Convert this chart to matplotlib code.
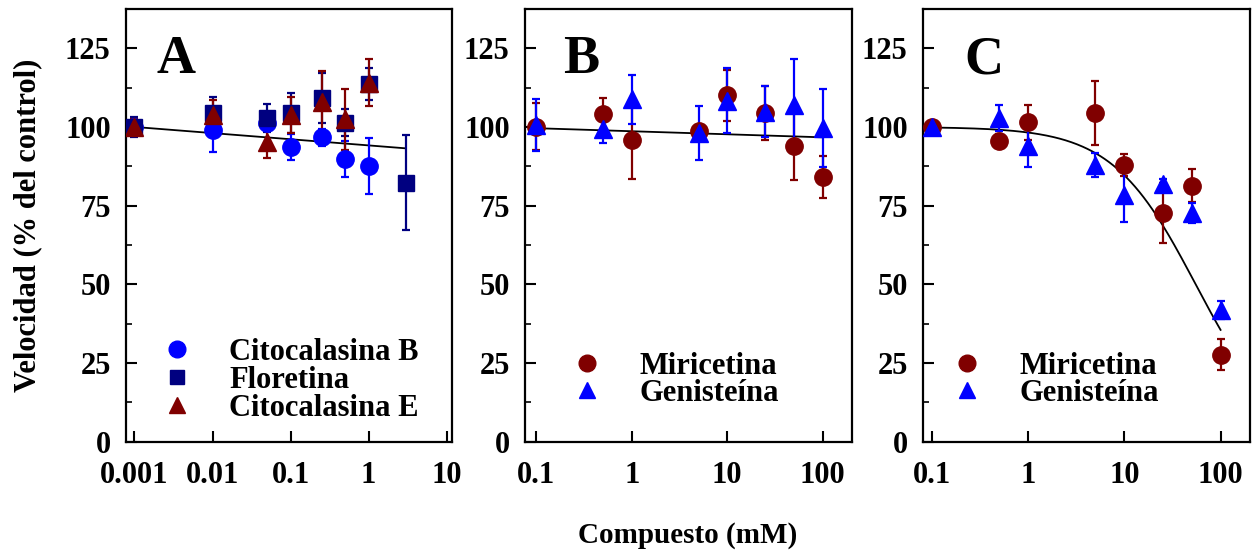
import numpy as np
import matplotlib
matplotlib.use("Agg")
import matplotlib.pyplot as plt
from matplotlib.ticker import FixedLocator, FixedFormatter, LogLocator, NullFormatter, MultipleLocator

plt.rcParams["font.family"] = ["Liberation Serif", "DejaVu Serif"]
plt.rcParams["font.weight"] = "bold"

# --------------------- DATA ---------------------

# panel A
conc_cb = [0.001, 0.01, 0.05, 0.1, 0.25, 0.5, 1]
vel_cb = [100, 99.0, 101.2, 93.5, 96.7, 89.7, 87.6]
err_cb = [3.0, 6.9, 2.0, 4.1, 2.7, 5.7, 8.8]

conc_flo = [0.001, 0.01, 0.05, 0.1, 0.25, 0.5, 1, 3]
vel_flo = [100, 104.4, 102.8, 104.4, 109.1, 101.4, 113.6, 82.3]
err_flo = [3.3, 5.0, 4.5, 6.3, 7.9, 4.3, 5.0, 15.1]

conc_ce = [0.001, 0.01, 0.05, 0.1, 0.25, 0.5, 1]
vel_ce = [100, 103.8, 95.3, 103.8, 108.0, 102.4, 114.1]
err_ce = [2.5, 4.8, 5.3, 5.8, 9.9, 9.6, 7.6]

fit_a_x = [0.001, 3]
fit_a_y = [100, 93.2]

# panels B and C share concentrations
conc_bc = [0.1, 0.5, 1, 5, 10, 25, 50, 100]

vel_mir_b = [100.1, 104.0, 95.9, 98.7, 110.0, 104.5, 94.1, 84.2]
err_mir_b = [7.4, 5.3, 12.4, 2.0, 8.0, 8.6, 11.0, 6.7]
vel_gen_b = [100.6, 99.3, 108.8, 98.2, 108.4, 104.9, 107.0, 99.6]
err_gen_b = [8.3, 4.3, 7.8, 8.6, 10.4, 8.1, 14.5, 12.4]

fit_b_x = [0.1, 100]
fit_b_y = [99.6, 96.7]

vel_mir_c = [100, 95.6, 101.5, 104.5, 87.9, 72.6, 81.3, 27.6]
err_mir_c = [1.5, 2.0, 5.5, 10.1, 3.4, 9.6, 5.3, 5.0]
vel_gen_c = [100, 102.8, 94.0, 87.9, 78.4, 81.9, 72.6, 41.8]
err_gen_c = [1.5, 4.2, 6.7, 3.9, 8.5, 1.5, 3.2, 3.0]

# hyperbolic inhibition fit for panel C
fit_c_top = 100
fit_c_ic50 = 55
fit_c_range = (0.1, 100)

xticks_a = [0.001, 0.01, 0.1, 1, 10]
xlabels_a = ["0.001", "0.01", "0.1", "1", "10"]
xticks_bc = [0.1, 1, 10, 100]
xlabels_bc = ["0.1", "1", "10", "100"]
yticks = [0, 25, 50, 75, 100, 125]

BLUE = "#0000ff"
NAVY = "#000080"
RED = "#800000"

# --------------------- FIGURE ---------------------

fig = plt.figure(figsize=(12.59, 5.51), dpi=100)
ax_a = fig.add_axes([0.1001, 0.1987, 0.2589, 0.785])
ax_b = fig.add_axes([0.4170, 0.1987, 0.2597, 0.785])
ax_c = fig.add_axes([0.7331, 0.1987, 0.2597, 0.785])


def style_axis(ax, xlim, xt, xl):
    ax.set_xscale("log")
    ax.set_xlim(*xlim)
    ax.set_ylim(0, 137.5)
    ax.xaxis.set_major_locator(FixedLocator(xt))
    ax.xaxis.set_major_formatter(FixedFormatter(xl))
    ax.xaxis.set_minor_locator(LogLocator(base=10, subs=np.arange(2, 10)))
    ax.xaxis.set_minor_formatter(NullFormatter())
    ax.yaxis.set_major_locator(FixedLocator(yticks))
    ax.yaxis.set_minor_locator(MultipleLocator(12.5))
    ax.tick_params(axis="both", which="major", direction="in", length=8, width=1.5,
                   labelsize=22, top=False, right=False)
    ax.tick_params(axis="both", which="minor", direction="in", length=4, width=1.2,
                   top=False, right=False)
    ax.tick_params(axis="y", which="major", pad=11)
    ax.tick_params(axis="x", which="major", pad=14)
    for lbl in ax.get_xticklabels() + ax.get_yticklabels():
        lbl.set_fontweight("bold")
    for sp in ax.spines.values():
        sp.set_linewidth(1.6)


def plot_series(ax, x, y, err, marker, color, ms):
    ax.errorbar(x, y, yerr=err, fmt=marker, color=color, mfc=color, mec=color,
                ms=ms, elinewidth=1.6, capsize=3, capthick=1.6, zorder=3)


def legend_rows(ax, mx, tx, rows, ys, baselines):
    for (marker, color, ms, label), y, yb in zip(rows, ys, baselines):
        ax.plot([mx], [y], marker=marker, color=color, ms=ms, ls="none",
                transform=ax.transAxes, clip_on=False)
        ax.text(tx, yb, label, transform=ax.transAxes, fontsize=22,
                fontweight="bold", va="baseline", ha="left")


def frac(py):
    return (441.5 - py) / 432.5


# --------------------- PANEL A ---------------------

style_axis(ax_a, (0.00078, 11.7), xticks_a, xlabels_a)
ax_a.plot(fit_a_x, fit_a_y, color="black", lw=1.3, zorder=2)
plot_series(ax_a, conc_cb, vel_cb, err_cb, "o", BLUE, 12.5)
plot_series(ax_a, conc_flo, vel_flo, err_flo, "s", NAVY, 11)
plot_series(ax_a, conc_ce, vel_ce, err_ce, "^", RED, 12.5)
ax_a.text(0.095, frac(73.3), "A", transform=ax_a.transAxes, fontsize=39,
          fontweight="bold", va="baseline")
legend_rows(ax_a, 0.156, 0.316,
            [("o", BLUE, 12, "Citocalasina B"),
             ("s", NAVY, 10.5, "Floretina"),
             ("^", RED, 12, "Citocalasina E")],
            [frac(349.3), frac(377.3), frac(405)],
            [frac(360), frac(388), frac(416)])

# --------------------- PANEL B ---------------------

style_axis(ax_b, (0.0759, 203), xticks_bc, xlabels_bc)
ax_b.plot(fit_b_x, fit_b_y, color="black", lw=1.3, zorder=2)
plot_series(ax_b, conc_bc, vel_mir_b, err_mir_b, "o", RED, 12.5)
plot_series(ax_b, conc_bc, vel_gen_b, err_gen_b, "^", BLUE, 12.5)
ax_b.text(0.116, frac(73.3), "B", transform=ax_b.transAxes, fontsize=39,
          fontweight="bold", va="baseline")
legend_rows(ax_b, 0.1905, 0.3495,
            [("o", RED, 12, "Miricetina"),
             ("^", BLUE, 12, "Genisteína")],
            [frac(363.3), frac(390)],
            [frac(374), frac(401)])

# --------------------- PANEL C ---------------------

style_axis(ax_c, (0.0804, 202), xticks_bc, xlabels_bc)
xc = np.logspace(np.log10(fit_c_range[0]), np.log10(fit_c_range[1]), 200)
ax_c.plot(xc, fit_c_top / (1 + xc / fit_c_ic50), color="black", lw=1.3, zorder=2)
plot_series(ax_c, conc_bc, vel_mir_c, err_mir_c, "o", RED, 12.5)
plot_series(ax_c, conc_bc, vel_gen_c, err_gen_c, "^", BLUE, 12.5)
ax_c.text(0.128, frac(73.3), "C", transform=ax_c.transAxes, fontsize=39,
          fontweight="bold", va="baseline")
legend_rows(ax_c, 0.1346, 0.2966,
            [("o", RED, 12, "Miricetina"),
             ("^", BLUE, 12, "Genisteína")],
            [frac(363.3), frac(390)],
            [frac(374), frac(401)])

# --------------------- AXIS TITLES ---------------------

fig.text(0.0222, 0.5917, "Velocidad (% del control)", rotation=90,
         fontsize=22, fontweight="bold", ha="center", va="center")
fig.text(0.5465, 0.029, "Compuesto (mM)", fontsize=21, fontweight="bold",
         ha="center", va="center")

fig.savefig("out.png", dpi=100)
